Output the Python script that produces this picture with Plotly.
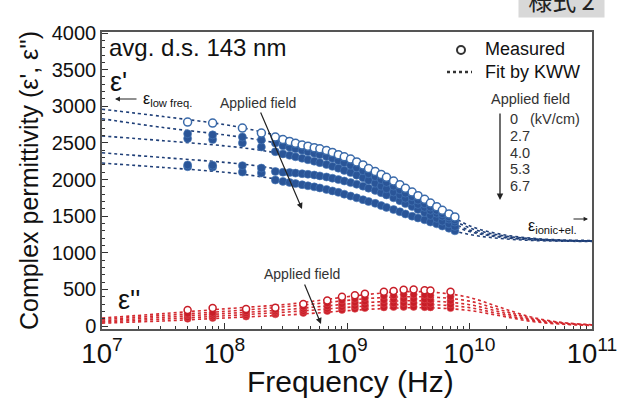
import plotly.graph_objects as go

# ---------------- data ----------------
fields = ["0", "2.7", "4.0", "5.3", "6.7"]

# frequency grid of the KWW fit curves (Hz)
f_fit = [1e7, 3.16e7, 1e8, 1.78e8, 3.16e8, 5.62e8, 1e9, 1.78e9, 3.16e9,
         5.62e9, 1e10, 1.78e10, 3.16e10, 5.62e10, 1e11]

eps1_fit = [
    [2960, 2860, 2750, 2670, 2570, 2450, 2300, 2100, 1870, 1610, 1370, 1255, 1200, 1176, 1168],
    [2830, 2710, 2610, 2550, 2470, 2360, 2220, 2030, 1800, 1560, 1340, 1240, 1193, 1171, 1163],
    [2595, 2530, 2460, 2410, 2340, 2240, 2110, 1940, 1730, 1500, 1310, 1225, 1186, 1167, 1160],
    [2365, 2300, 2235, 2190, 2125, 2060, 1975, 1840, 1655, 1450, 1290, 1214, 1179, 1164, 1158],
    [2225, 2165, 2100, 2050, 1985, 1905, 1790, 1665, 1520, 1360, 1250, 1196, 1170, 1159, 1155],
]

eps2_fit = [
    [110, 170, 235, 265, 295, 345, 400, 445, 470, 455, 390, 255, 125, 50, 18],
    [90, 145, 200, 230, 265, 305, 350, 385, 400, 390, 340, 222, 110, 44, 16],
    [70, 120, 170, 195, 225, 262, 300, 330, 345, 335, 292, 192, 95, 38, 14],
    [55, 95, 140, 165, 190, 222, 255, 282, 295, 288, 252, 165, 80, 32, 11],
    [40, 70, 110, 130, 150, 178, 210, 235, 250, 245, 212, 140, 65, 26, 9],
]

# measured frequencies for eps'
f_meas1 = [5e7, 8e7, 1.4e8, 2e8, 2.6e8, 3.0e8, 3.4e8, 3.8e8, 4.3e8, 4.8e8, 5.4e8,
           6e8, 6.8e8, 7.6e8, 8.5e8, 9.5e8, 1.07e9, 1.2e9, 1.35e9, 1.5e9, 1.7e9,
           1.9e9, 2.1e9, 2.4e9, 2.7e9, 3.0e9, 3.4e9, 3.8e9, 4.3e9, 4.8e9, 5.4e9,
           6.0e9, 6.8e9, 7.6e9]

eps1_meas = [
    [2785, 2771, 2703, 2635, 2580, 2545, 2520, 2495, 2470, 2455, 2435, 2420, 2395, 2370,
     2340, 2310, 2280, 2240, 2200, 2150, 2110, 2070, 2030, 1980, 1930, 1880, 1830, 1780,
     1730, 1680, 1630, 1580, 1530, 1490],
    [2625, 2610, 2580, 2540, 2500, 2460, 2440, 2420, 2400, 2380, 2360, 2340, 2315, 2290,
     2260, 2230, 2195, 2160, 2120, 2080, 2040, 2000, 1960, 1910, 1860, 1815, 1765, 1720,
     1670, 1625, 1580, 1535, 1490, 1450],
    [2560, 2545, 2500, 2444, 2380, 2350, 2330, 2310, 2290, 2270, 2250, 2230, 2205, 2180,
     2155, 2125, 2095, 2060, 2025, 1990, 1950, 1910, 1875, 1830, 1790, 1745, 1705, 1660,
     1620, 1580, 1540, 1500, 1460, 1420],
    [2200, 2195, 2190, 2157, 2110, 2100, 2095, 2088, 2080, 2072, 2062, 2050, 2035, 2018,
     2000, 1980, 1958, 1935, 1910, 1882, 1852, 1820, 1790, 1750, 1712, 1672, 1632, 1592,
     1550, 1510, 1470, 1432, 1395, 1360],
    [2175, 2170, 2102, 2089, 1993, 1975, 1960, 1945, 1930, 1915, 1900, 1885, 1865, 1845,
     1825, 1800, 1775, 1750, 1725, 1700, 1675, 1645, 1620, 1590, 1560, 1530, 1500, 1475,
     1450, 1420, 1395, 1365, 1335, 1300],
]

# measured frequencies for eps''
f_meas2 = [5e7, 8e7, 1.5e8, 2.6e8, 4.4e8, 6.9e8, 9.1e8, 1.16e9, 1.4e9, 2e9, 2.4e9,
           2.9e9, 3.5e9, 4.3e9, 4.8e9, 7e9]

eps2_meas = [
    [220, 246, 232, 250, 300, 350, 400, 420, 440, 470, 480, 495, 500, 490, 485, 470],
    [170, 180, 200, 225, 265, 310, 350, 370, 385, 410, 420, 430, 430, 425, 420, 400],
    [150, 155, 175, 200, 235, 270, 300, 320, 335, 355, 365, 370, 370, 365, 360, 345],
    [120, 130, 150, 180, 205, 235, 260, 275, 290, 305, 310, 315, 315, 310, 305, 295],
    [100, 110, 130, 160, 180, 205, 220, 235, 245, 255, 260, 262, 262, 258, 255, 245],
]

y_ticks = [0, 500, 1000, 1500, 2000, 2500, 3000, 3500, 4000]

# ---------------- styling ----------------
BLUE = "#2a5598"
BLUE_LINE = "#1f3f78"
BLUE_OPEN = "#3a6aaa"
RED = "#c81e28"
RED_LINE = "#d42a30"
FONT = "Liberation Sans, Arial, sans-serif"

W, H = 631, 400
L, R, T, B = 102, 39, 32, 71
PW = W - L - R
PH = H - T - B


def P(px, py):
    return (px - L) / PW, (H - B - py) / PH


fig = go.Figure()

for ys in eps1_fit:
    fig.add_trace(go.Scatter(x=f_fit, y=ys, mode="lines",
                             line=dict(color=BLUE_LINE, width=1.6, dash="dot", shape="spline"),
                             showlegend=False, hoverinfo="skip"))
for ys in eps2_fit:
    fig.add_trace(go.Scatter(x=f_fit, y=ys, mode="lines",
                             line=dict(color=RED_LINE, width=1.6, dash="dot", shape="spline"),
                             showlegend=False, hoverinfo="skip"))

for i in reversed(range(5)):
    open_ = i == 0
    fig.add_trace(go.Scatter(
        x=f_meas1, y=eps1_meas[i], mode="markers", name=fields[i] + " kV/cm",
        marker=dict(size=8, symbol="circle",
                    color="white" if open_ else BLUE,
                    line=dict(color=BLUE_OPEN if open_ else "#4a7ab8", width=1.5 if open_ else 0.6)),
        showlegend=False))
    fig.add_trace(go.Scatter(
        x=f_meas2, y=eps2_meas[i], mode="markers", name=fields[i] + " kV/cm",
        marker=dict(size=7, symbol="circle",
                    color="white" if open_ else RED,
                    line=dict(color=RED if open_ else "#dd4a50", width=1.5 if open_ else 0.6)),
        showlegend=False))

ann = []


def text(px, py, s, size, xanchor="left", color="#111", yanchor="middle"):
    x, y = P(px, py)
    ann.append(dict(x=x, y=y, xref="paper", yref="paper", text=s, showarrow=False,
                    xanchor=xanchor, yanchor=yanchor,
                    font=dict(family=FONT, size=size, color=color)))


def arrow(px0, py0, px1, py1, width=1.2, head=2, size=1.0):
    x, y = P(px1, py1)
    ann.append(dict(x=x, y=y, xref="paper", yref="paper", text="", showarrow=True,
                    ax=px0 - px1, ay=py0 - py1, axref="pixel", ayref="pixel",
                    arrowhead=head, arrowsize=size, arrowwidth=width, arrowcolor="#222",
                    font=dict(size=10)))


text(107, 47, "avg. d.s. 143 nm", 24)
text(108, 82, "ε'", 27)
text(116, 300, "ε''", 27)
arrow(138, 99, 115, 99, width=1.1, head=2, size=0.9)
text(141, 100, "ε<sub>low freq.</sub>", 16)
text(258, 103, "Applied field", 14, xanchor="center", color="#333")
arrow(260, 111, 302, 209)
text(302, 274, "Applied field", 14, xanchor="center", color="#333")
arrow(304, 283, 321, 324)
text(526, 226, "ε<sub>ionic+el.</sub>", 16)
arrow(572, 219, 588, 219, width=1.1, head=2, size=0.8)

# legend block
text(483, 49, "Measured", 18)
text(483, 72, "Fit by KWW", 18)
text(530, 99, "Applied field", 14.5, xanchor="center", color="#333")
text(508, 119, "0", 14.5, color="#333")
text(528, 119, "(kV/cm)", 14.5, color="#333")
for k, s in enumerate(["2.7", "4.0", "5.3", "6.7"]):
    text(508, 136 + 16.6 * k, s, 14.5, color="#333")
arrow(500, 112, 500, 200, width=1.3, head=2, size=1.0)

# "様式 2" tag
tx, ty = P(561, 18)
ann.append(dict(x=tx, y=ty, xref="paper", yref="paper", text="様式 2", showarrow=False,
                xanchor="center", yanchor="bottom", bgcolor="#d8d8d8", borderpad=0,
                width=85, height=34, valign="bottom",
                font=dict(family="Noto Sans CJK JP", size=24, color="#222")))

# x-axis title placed explicitly below the tick labels
text(350, 381, "Frequency (Hz)", 30, xanchor="center")

cx, cy = P(461, 50)
lx0, ly = P(447, 72)
lx1, _ = P(472, 72)
shapes = [
    dict(type="circle", xref="paper", yref="paper", xsizemode="pixel", ysizemode="pixel",
         xanchor=cx, yanchor=cy, x0=-4, x1=4, y0=-4, y1=4,
         line=dict(color="#333", width=2)),
    dict(type="line", xref="paper", yref="paper", x0=lx0, x1=lx1, y0=ly, y1=ly,
         line=dict(color="#333", width=2.5, dash="dot")),
]

fig.update_layout(
    width=W, height=H, margin=dict(l=L, r=R, t=T, b=B, autoexpand=False),
    paper_bgcolor="white", plot_bgcolor="white",
    annotations=ann, shapes=shapes, showlegend=False,
    font=dict(family=FONT, color="#111"),
)

fig.update_xaxes(
    type="log", range=[7, 11], dtick=1, exponentformat="power",
    showgrid=False, zeroline=False, automargin=False,
    showline=True, linecolor="#555", linewidth=1.5, mirror=True,
    ticks="inside", ticklen=6, tickwidth=1.2, tickcolor="#333",
    minor=dict(ticks="inside", ticklen=3.5, tickwidth=1, tickcolor="#333", dtick="D1", showgrid=False),
    tickfont=dict(family=FONT, size=22, color="#111"),
)
fig.update_yaxes(
    range=[-40, 4014], tickvals=y_ticks,
    showgrid=False, zeroline=False, automargin=False,
    showline=True, linecolor="#555", linewidth=1.5, mirror=True,
    ticks="inside", ticklen=6, tickwidth=1.2, tickcolor="#333",
    minor=dict(ticks="inside", ticklen=3.5, tickwidth=1, tickcolor="#333", dtick=100, showgrid=False),
    tickfont=dict(family=FONT, size=20, color="#111"),
    title=dict(text="Complex permittivity (ε', ε'')", font=dict(family=FONT, size=25, color="#111"),
               standoff=6),
)

fig.write_html("out.html", config={"displayModeBar": False},
               post_script="document.body.style.margin='0px';document.body.style.overflow='hidden';")
